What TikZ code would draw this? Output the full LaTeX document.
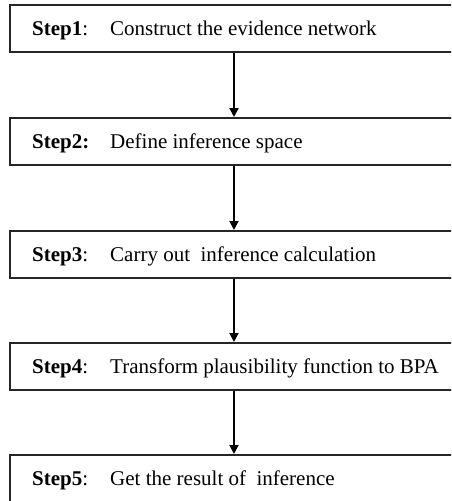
\documentclass[tikz,border=0pt]{standalone}
\usepackage{fontspec}
\setmainfont{Liberation Serif}
\usetikzlibrary{arrows.meta,calc}
\begin{document}
\begin{tikzpicture}[x=1pt,y=-1pt,
  stepbox/.style={draw=black!85,line width=1.5pt,minimum width=460pt,minimum height=47pt,anchor=north west,inner sep=0pt},
  steplab/.style={anchor=base west,inner sep=0pt,font=\fontsize{21}{24}\selectfont},
  flow/.style={line width=2pt,-{Triangle[length=9pt,width=9pt]}}]
\useasboundingbox (0,0) rectangle (451,501);
\begin{scope}
\clip (0,0) rectangle (451,501);
\node[stepbox] (b1) at (9,4) {};
\node[stepbox] (b2) at (9,117) {};
\node[stepbox] (b3) at (9,230) {};
\node[stepbox] (b4) at (9,342) {};
\node[stepbox] (b5) at (9,454) {};
\end{scope}
\node[steplab] (l1) at (32,35) {\textbf{Step1}:};
\node[steplab] (t1) at (110,35) {Construct the evidence network};
\node[steplab] (l2) at (32,148) {\textbf{Step2:}};
\node[steplab] (t2) at (110,148) {Define inference space};
\node[steplab] (l3) at (32,261) {\textbf{Step3}:};
\node[steplab] (t3) at (110,261) {Carry out\ \ inference calculation};
\node[steplab] (l4) at (32,373) {\textbf{Step4}:};
\node[steplab] (t4) at (110,373) {Transform plausibility function to BPA};
\node[steplab] (l5) at (32,485) {\textbf{Step5}:};
\node[steplab] (t5) at (110,485) {Get the result of\ \ inference};
\draw[flow] ($(b1.south west)+(225,0)$) -- ($(b2.north west)+(225,0)$);
\draw[flow] ($(b2.south west)+(225,0)$) -- ($(b3.north west)+(225,0)$);
\draw[flow] ($(b3.south west)+(225,0)$) -- ($(b4.north west)+(225,0)$);
\draw[flow] ($(b4.south west)+(225,0)$) -- ($(b5.north west)+(225,0)$);
\end{tikzpicture}
\end{document}
